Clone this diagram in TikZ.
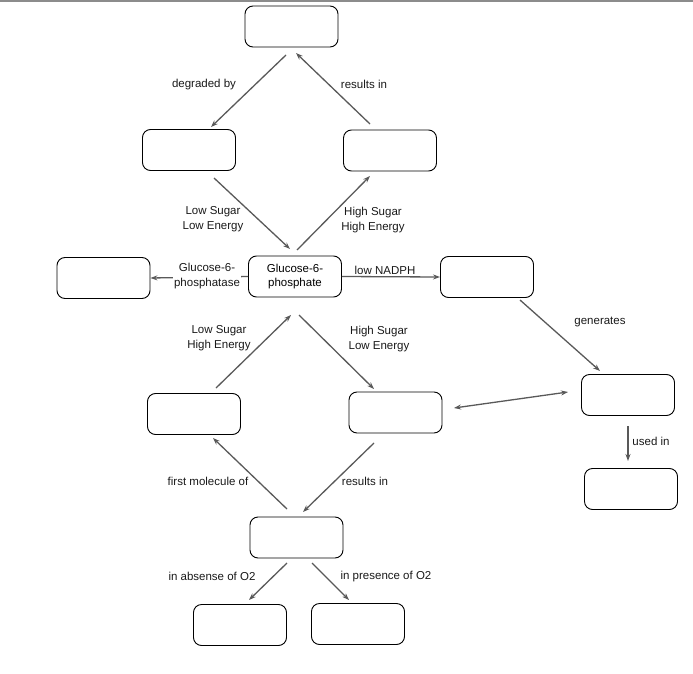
\documentclass[tikz,border=0pt]{standalone}
\usepackage{fontspec}
\setmainfont{Liberation Sans}
\usetikzlibrary{arrows.meta}
\begin{document}
\begin{tikzpicture}[x=1pt,y=-1pt,
  box/.style={draw=black,line width=0.9pt,rounded corners=8pt,minimum width=93pt,minimum height=41pt,inner sep=0pt,font=\fontsize{11.5}{13.5}\selectfont,align=center},
  conn/.style={draw=black!65,line width=1.3pt,-{Stealth[length=7pt,width=5pt]}},
  lbl/.style={font=\fontsize{11.5}{14.5}\selectfont,align=center,inner sep=1pt,text=black!90}]
\useasboundingbox (0,0) rectangle (693,674);
\fill[black!45] (0,0) rectangle (693,2.5);
\node[box] (top) at (291.5,26.5) {};
\node[box] (l1) at (189,150) {};
\node[box] (r1) at (390,150.5) {};
\node[box] (g6p) at (295,276.5) {Glucose-6-\\phosphate};
\node[box] (lft) at (103.5,278) {};
\node[box] (nadph) at (487,277) {};
\node[box] (lmid) at (194,414) {};
\node[box] (rmid) at (395.5,412.5) {};
\node[box] (fr) at (628,395) {};
\node[box] (frb) at (631,489) {};
\node[box] (bm) at (296.5,537.5) {};
\node[box] (bl) at (240,625) {};
\node[box] (br) at (358,624) {};
\coordinate (a1) at (286,55); \coordinate (a2) at (211,127);
\draw[conn] (a1) -- (a2);
\coordinate (b1) at (370,124); \coordinate (b2) at (296,53);
\draw[conn] (b1) -- (b2);
\coordinate (c1) at (214,178); \coordinate (c2) at (290,249);
\draw[conn] (c1) -- (c2);
\coordinate (d1) at (297,250); \coordinate (d2) at (370,176);
\draw[conn] (d1) -- (d2);
\draw[conn] (g6p.west) -- (lft.east);
\draw[conn] (g6p.east) -- (nadph.west);
\coordinate (e1) at (520,300); \coordinate (e2) at (600,371);
\draw[conn] (e1) -- (e2);
\coordinate (f1) at (216,388); \coordinate (f2) at (291,315);
\draw[conn] (f1) -- (f2);
\coordinate (g1) at (299,315); \coordinate (g2) at (374,389);
\draw[conn] (g1) -- (g2);
\coordinate (h1) at (454,408); \coordinate (h2) at (568,392);
\draw[conn,{Stealth[length=7pt,width=5pt]}-{Stealth[length=7pt,width=5pt]}] (h1) -- (h2);
\coordinate (i1) at (628,426); \coordinate (i2) at (628,461);
\draw[conn] (i1) -- (i2);
\coordinate (j1) at (287,509); \coordinate (j2) at (213,438);
\draw[conn] (j1) -- (j2);
\coordinate (k1) at (374,443); \coordinate (k2) at (303,512);
\draw[conn] (k1) -- (k2);
\coordinate (m1) at (287,563); \coordinate (m2) at (249,600);
\draw[conn] (m1) -- (m2);
\coordinate (n1) at (312,563); \coordinate (n2) at (349,600);
\draw[conn] (n1) -- (n2);
\node[lbl] (t1) at (204,85) {degraded by};
\node[lbl] (t2) at (364,84) {results in};
\node[lbl] (t3) at (213,219) {Low Sugar\\Low Energy};
\node[lbl] (t4) at (373,220) {High Sugar\\High Energy};
\node[lbl,fill=white] (t5) at (207,276) {Glucose-6-\\phosphatase};
\node[lbl] (t6) at (385,270) {low NADPH};
\node[lbl] (t7) at (600,322) {generates};
\node[lbl] (t8) at (219,338) {Low Sugar\\High Energy};
\node[lbl] (t9) at (379,339) {High Sugar\\Low Energy};
\node[lbl] (t10) at (651,441) {used in};
\node[lbl] (t11) at (208,481) {first molecule of};
\node[lbl] (t12) at (365,481) {results in};
\node[lbl] (t13) at (212,576) {in absense of O2};
\node[lbl] (t14) at (386,577) {in presence of O2};
\end{tikzpicture}
\end{document}
